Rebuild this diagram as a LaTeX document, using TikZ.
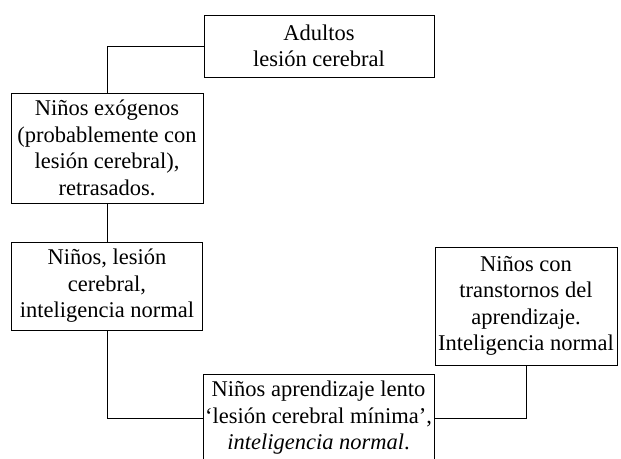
\documentclass[tikz,border=0pt]{standalone}
\usepackage{fontspec}
\setmainfont{Liberation Serif}
\begin{document}
\begin{tikzpicture}[x=1pt,y=-1pt,
  box/.style={draw,line width=1pt,rectangle,align=center,inner sep=0pt,
    font=\fontsize{22.5}{26.5}\selectfont},
  conn/.style={line width=1pt}]
\useasboundingbox (0,0) rectangle (621,458);
\node[box,minimum width=230,minimum height=62] (adult) at (319,46) {Adultos\\lesión cerebral};
\node[box,minimum width=192,minimum height=110] (exo) at (107,148) {Niños exógenos\\(probablemente con\\lesión cerebral),\\retrasados.};
\node[box,minimum width=191,minimum height=88] (les) at (107,286) {Niños, lesión\\cerebral,\\inteligencia normal};
\node[box,minimum width=231,minimum height=88] (lento) at (318.5,418) {Niños aprendizaje lento\\‘lesión cerebral mínima’,\\\textit{inteligencia normal}.};
\node[box,minimum width=182,minimum height=118] (right) at (526,306) {Niños con\\transtornos del\\aprendizaje.\\Inteligencia normal};
\draw[conn] (adult.west) -| (exo.north);
\draw[conn] (exo.south) -- (les.north);
\draw[conn] (les.south) |- (lento.west);
\draw[conn] (right.south) |- (lento.east);
\end{tikzpicture}
\end{document}
